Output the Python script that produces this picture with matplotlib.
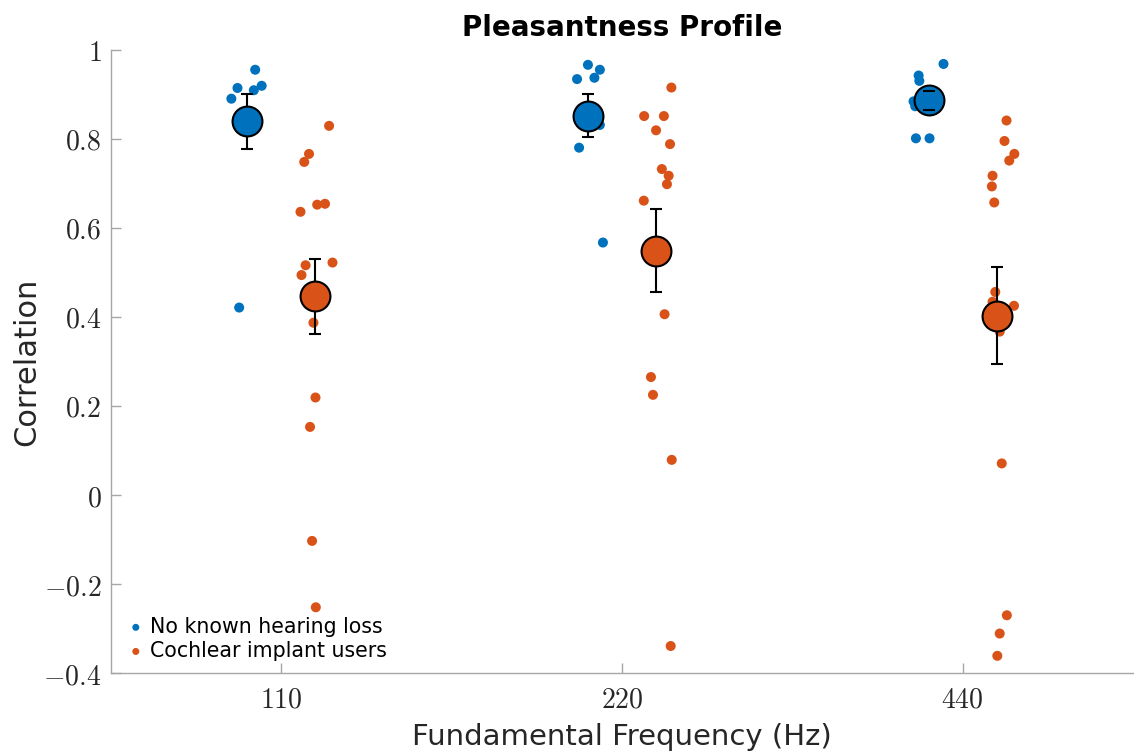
import numpy as np
import matplotlib.pyplot as plt
from matplotlib.ticker import FixedLocator, FuncFormatter

# ---------------------------------------------------------------------------
# Data
# ---------------------------------------------------------------------------

freq_labels = ["110", "220", "440"]

# individual participant correlations, one list per F0
nh_vals = [
    [0.955, 0.914, 0.919, 0.909, 0.890, 0.421],
    [0.966, 0.955, 0.934, 0.937, 0.831, 0.780, 0.567],
    [0.968, 0.942, 0.930, 0.884, 0.873, 0.801, 0.801],
]
nh_jit = [
    [0.023, -0.029, 0.042, 0.019, -0.047, -0.024],
    [0.000, 0.035, -0.032, 0.019, 0.035, -0.026, 0.044],
    [0.044, -0.029, -0.027, -0.044, -0.039, -0.037, 0.003],
]
ci_vals = [
    [0.829, 0.766, 0.748, 0.652, 0.654, 0.636, 0.516, 0.522, 0.494,
     0.387, 0.219, 0.153, -0.103, -0.252],
    [0.915, 0.851, 0.851, 0.819, 0.788, 0.732, 0.717, 0.698, 0.661,
     0.406, 0.265, 0.225, 0.079, -0.339],
    [0.841, 0.795, 0.766, 0.751, 0.717, 0.693, 0.657, 0.456, 0.434,
     0.425, 0.367, 0.071, -0.270, -0.311, -0.361],
]
ci_jit = [
    [0.040, -0.019, -0.033, 0.005, 0.028, -0.044, -0.029, 0.050, -0.041,
     -0.006, 0.000, -0.016, -0.010, 0.001],
    [0.045, -0.035, 0.023, 0.000, 0.041, 0.017, 0.037, 0.032, -0.036,
     0.025, -0.015, -0.009, 0.046, 0.043],
    [0.029, 0.023, 0.052, 0.037, -0.012, -0.014, -0.007, -0.004, -0.012,
     0.051, 0.009, 0.015, 0.030, 0.009, 0.002],
]

# group means and standard errors
nh_mean = [0.839, 0.852, 0.886]
nh_sem = [0.062, 0.048, 0.022]
ci_mean = [0.446, 0.549, 0.403]
ci_sem = [0.085, 0.094, 0.109]

# ---------------------------------------------------------------------------
# Style
# ---------------------------------------------------------------------------

COLOR_NH = "#0072BD"
COLOR_CI = "#D95319"
COLOR_AXIS = "#a6a6a6"
COLOR_TEXT = "#262626"
OFFSET = 0.1

plt.rcParams["font.family"] = ["DejaVu Sans"]
plt.rcParams["mathtext.fontset"] = "cm"

fig = plt.figure(figsize=(11.34, 7.53), dpi=100)
ax = fig.add_axes([0.098, 0.106, 0.901, 0.828])

x_pos = np.arange(1, len(freq_labels) + 1)

groups = [
    (nh_vals, nh_jit, nh_mean, nh_sem, COLOR_NH, -OFFSET, "No known hearing loss"),
    (ci_vals, ci_jit, ci_mean, ci_sem, COLOR_CI, +OFFSET, "Cochlear implant users"),
]

handles = []
for vals, jit, mean, sem, col, off, label in groups:
    for k, x0 in enumerate(x_pos):
        xs = x0 + off + np.asarray(jit[k])
        sc = ax.scatter(xs, vals[k], s=52, color=col, edgecolors="none",
                        zorder=2, label=label if k == 0 else None)
        if k == 0:
            handles.append(sc)
    xm = x_pos + off
    # error bars under the mean marker, caps on top of it
    eb = ax.errorbar(xm, mean, yerr=sem, fmt="none", ecolor="black",
                     elinewidth=1.5, capsize=4, capthick=1.5, zorder=3)
    for cap in eb[1]:
        cap.set_zorder(5)
    ax.plot(xm, mean, ls="none", marker="o", ms=21.5, mfc=col,
            mec="black", mew=1.5, zorder=4)

ax.set_xlim(0.5, 3.5)
ax.set_ylim(-0.4, 1.0)

ax.xaxis.set_major_locator(FixedLocator(x_pos))
ax.set_xticklabels([f"${s}$" for s in freq_labels])
ax.yaxis.set_major_locator(FixedLocator(np.round(np.arange(-0.4, 1.01, 0.2), 1)))
ax.yaxis.set_major_formatter(FuncFormatter(lambda v, p: f"${v:g}$"))

for side in ("top", "right"):
    ax.spines[side].set_visible(False)
for side in ("left", "bottom"):
    ax.spines[side].set_color(COLOR_AXIS)
    ax.spines[side].set_linewidth(1.0)

ax.tick_params(direction="in", length=7, width=1.0, color=COLOR_AXIS,
               labelcolor=COLOR_TEXT, labelsize=20)
ax.tick_params(axis="y", pad=7)
ax.tick_params(axis="x", pad=9)

ax.set_xlabel("Fundamental Frequency (Hz)", fontsize=21, color=COLOR_TEXT,
              labelpad=7)
ax.set_ylabel("Correlation", fontsize=22, color=COLOR_TEXT, labelpad=1)
ax.set_title("Pleasantness Profile", fontsize=20, fontweight="bold",
             color="black", pad=10)

leg = ax.legend(handles=handles, loc="lower left", frameon=False,
                fontsize=14.8, handletextpad=0.1, borderaxespad=0.2,
                labelspacing=0.2, markerscale=0.7, handlelength=1.2,
                bbox_to_anchor=(0.0, 0.0))
for t in leg.get_texts():
    t.set_color("black")

plt.savefig("out.png", dpi=100)
plt.close(fig)
